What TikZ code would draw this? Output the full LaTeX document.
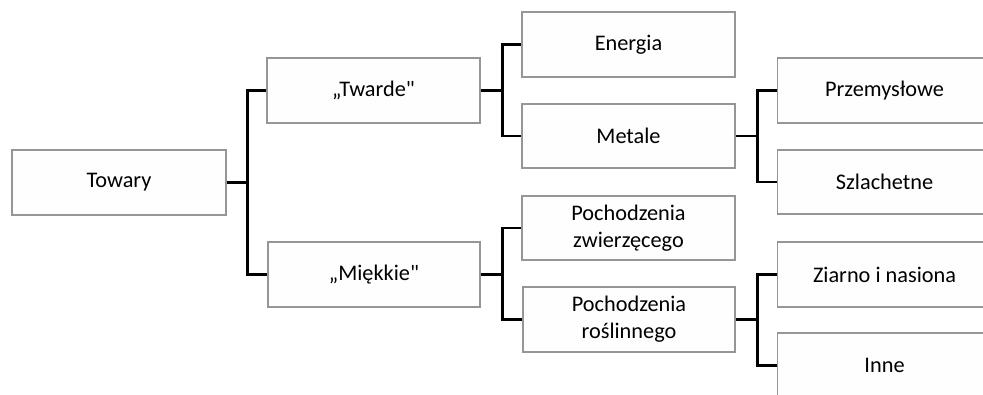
\documentclass[tikz,border=0pt]{standalone}
\usepackage{fontspec}
\newfontfamily\carl{Carlito}
\definecolor{boxline}{RGB}{150,150,150}
\definecolor{boxfill}{RGB}{254,254,254}
\newcommand{\rtext}[1]{\makebox[214pt][c]{#1}\hspace*{106pt}}
\begin{document}
\begin{tikzpicture}[x=1pt,y=-1pt,
  cat/.style={draw=boxline,fill=boxfill,line width=1.1pt,minimum width=213pt,minimum height=65pt,
    inner sep=0pt,align=center,font=\carl\fontsize{22.3}{27}\selectfont},
  rcat/.style={cat,anchor=west,minimum width=320pt},
  conn/.style={draw=black,line width=2.2pt}]
\useasboundingbox (0,0) rectangle (983,395);
\node[cat,minimum width=214pt] (towary) at (119,182.5) {Towary};
\node[cat] (twarde) at (373.5,90.5) {„Twarde"};
\node[cat,minimum width=212pt] (miekkie) at (374,274.5) {„Miękkie"};
\node[cat] (energia) at (628.5,44.5) {Energia};
\node[cat,minimum height=64pt] (metale) at (628.5,136) {Metale};
\node[cat,minimum height=64pt] (zwierz) at (628.5,228) {Pochodzenia\\zwierzęcego};
\node[cat,minimum width=212pt] (rosl) at (629,319.5) {Pochodzenia\\roślinnego};
\node[rcat] (przem) at (777,90.5) {\rtext{Przemysłowe}};
\node[rcat,minimum height=64pt] (szlach) at (777,182) {\rtext{Szlachetne}};
\node[rcat] (ziarno) at (777,274.5) {\rtext{Ziarno i nasiona}};
\node[rcat] (inne) at (777,365.5) {\rtext{Inne}};
% connectors
\draw[conn] (towary.east) -- ++(21,0);
\draw[conn] (twarde.west) -| ([xshift=21pt]towary.east) |- (miekkie.west);
\draw[conn] (twarde.east) -- ++(22,0);
\draw[conn] (energia.west) -| ([xshift=22pt]twarde.east) |- (metale.west);
\draw[conn] (miekkie.east) -- ++(22,0);
\draw[conn] (zwierz.west) -| ([xshift=22pt]miekkie.east) |- (rosl.west);
\draw[conn] (metale.east) -- ++(22,0);
\draw[conn] (przem.west) -| ([xshift=22pt]metale.east) |- (szlach.west);
\draw[conn] (rosl.east) -- ++(22,0);
\draw[conn] (ziarno.west) -| ([xshift=22pt]rosl.east) |- (inne.west);
\end{tikzpicture}
\end{document}
